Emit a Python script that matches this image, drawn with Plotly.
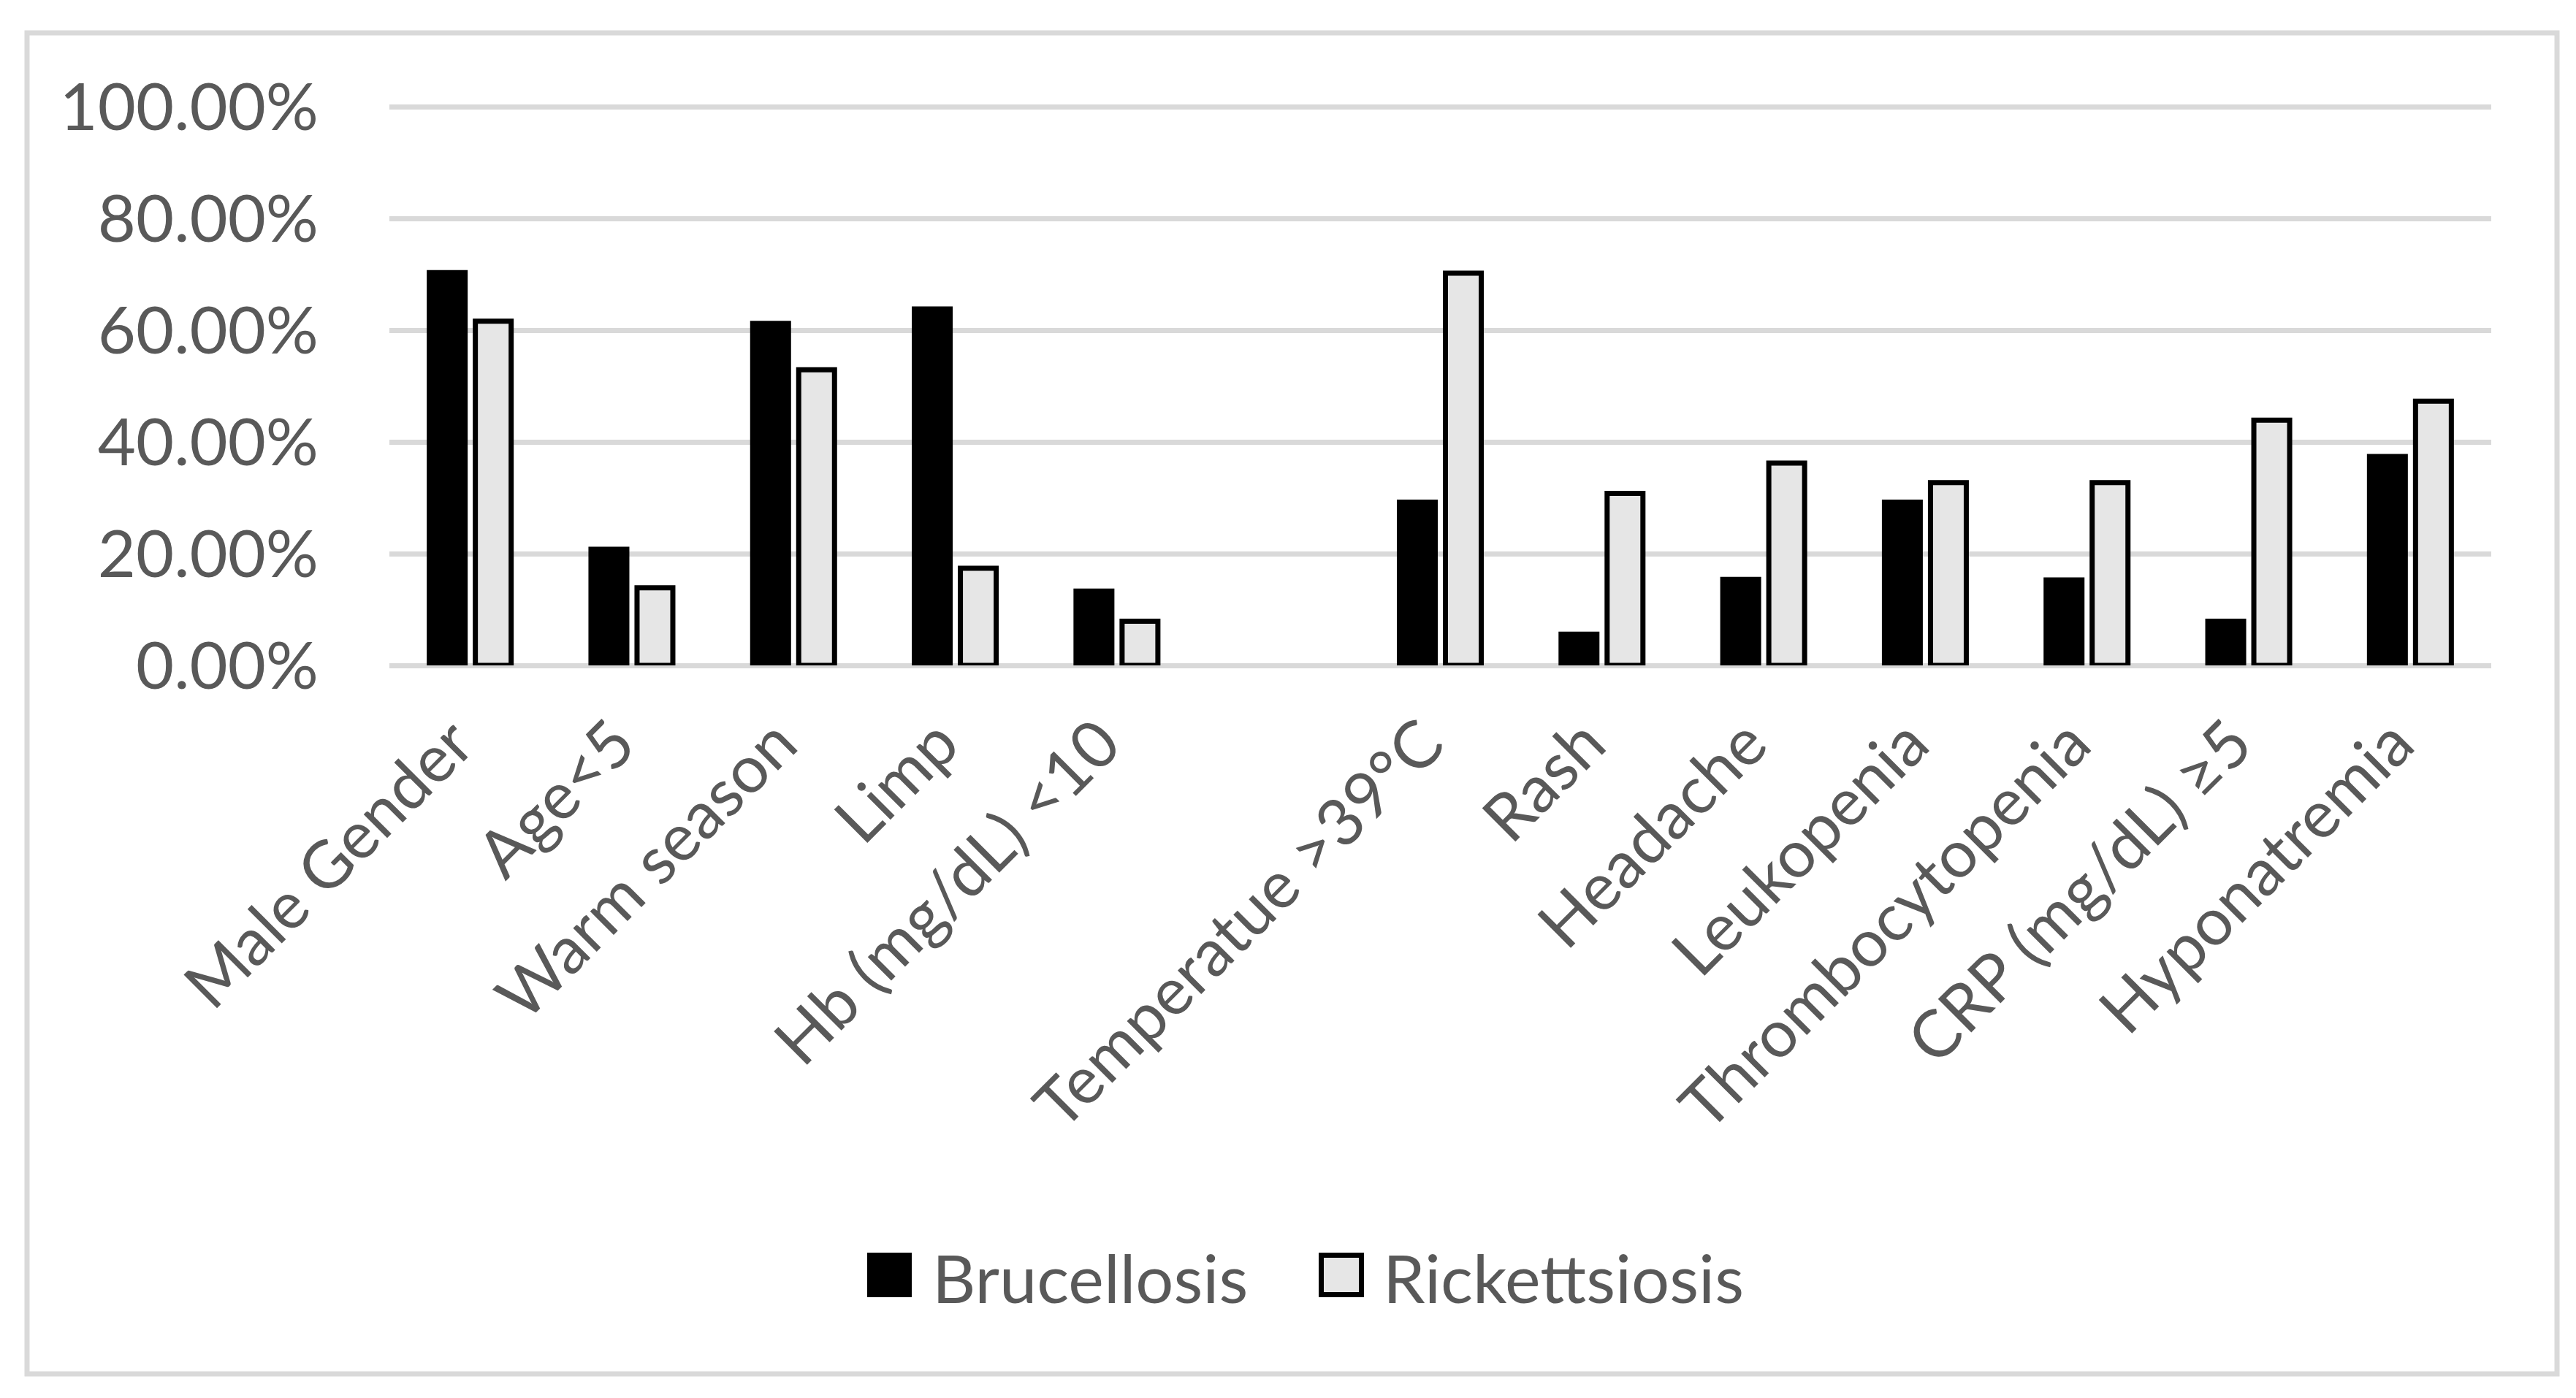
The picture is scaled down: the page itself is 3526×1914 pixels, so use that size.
import plotly.graph_objects as go

categories = ["Male Gender", "Age<5", "Warm season", "Limp", "Hb (mg/dL) <10", " ",
              "Temperatue >39°C", "Rash", "Headache", "Leukopenia",
              "Thrombocytopenia", "CRP (mg/dL) ≥5", "Hyponatremia"]
brucellosis = [0.703, 0.208, 0.612, 0.638, 0.133, None,
               0.292, 0.056, 0.154, 0.292, 0.153, 0.079, 0.374]
rickettsiosis = [0.616, 0.139, 0.529, 0.174, 0.079, None,
                 0.702, 0.308, 0.362, 0.327, 0.327, 0.439, 0.473]
series_names = ["Brucellosis", "Rickettsiosis"]
y_ticks = [0, 0.2, 0.4, 0.6, 0.8, 1.0]

W, H = 3526, 1914
L, R, T, B = 525, 124, 130, 1011
pw = W - L - R
ph = H - T - B
ymax = ph / 765.0
font = "Lato, Carlito, Calibri, sans-serif"
txt = "#595959"
grid = "#d9d9d9"
c_bru = "#000000"
c_ric = "#e6e6e6"
edge = "#000000"


def px(x):
    return (x - L) / pw


def py(y):
    return (H - B - y) / ph


fig = go.Figure()
fig.add_trace(go.Bar(name=series_names[0], x=categories, y=brucellosis,
                     marker=dict(color=c_bru, line=dict(color=edge, width=7)),
                     showlegend=False))
fig.add_trace(go.Bar(name=series_names[1], x=categories, y=rickettsiosis,
                     marker=dict(color=c_ric, line=dict(color=edge, width=7)),
                     showlegend=False))

shapes = [
    # outer chart frame
    dict(type="rect", xref="paper", yref="paper",
         x0=px(29), x1=px(3492), y0=py(1873), y1=py(37),
         line=dict(color=grid, width=7), fillcolor="rgba(0,0,0,0)", layer="below"),
    # legend swatches
    dict(type="rect", xref="paper", yref="paper",
         x0=px(1179), x1=px(1240), y0=py(1768), y1=py(1707),
         line=dict(width=0), fillcolor=c_bru),
    dict(type="rect", xref="paper", yref="paper",
         x0=px(1800.5), x1=px(1855.5), y0=py(1764.5), y1=py(1710.5),
         line=dict(color=edge, width=7), fillcolor=c_ric),
]
annotations = [
    dict(text=series_names[0], xref="paper", yref="paper", x=px(1266), y=py(1740),
         xanchor="left", yanchor="middle", showarrow=False,
         font=dict(size=92, color=txt, family=font)),
    dict(text=series_names[1], xref="paper", yref="paper", x=px(1883), y=py(1740),
         xanchor="left", yanchor="middle", showarrow=False,
         font=dict(size=92, color=txt, family=font)),
]

fig.update_layout(
    width=W, height=H,
    margin=dict(l=L, r=R, t=T, b=B),
    paper_bgcolor="white", plot_bgcolor="white",
    barmode="group", bargap=0.4306, bargroupgap=0.222,
    font=dict(family=font, color=txt, size=90),
    showlegend=False,
    xaxis=dict(type="category", categoryorder="array", categoryarray=categories,
               tickangle=-45, showgrid=False, showline=False, ticks="",
               tickfont=dict(size=90, color=txt), ticklabelstandoff=35,
               ticklabelshift=-22),
    yaxis=dict(range=[0, ymax], tickvals=y_ticks, tickformat=".2%",
               showgrid=True, gridcolor=grid, gridwidth=7,
               zeroline=True, zerolinecolor=grid, zerolinewidth=7,
               showline=False, ticks="", ticklabelstandoff=96,
               tickfont=dict(size=90, color=txt)),
    shapes=shapes,
    annotations=annotations,
)

fig.write_html("out.html")
